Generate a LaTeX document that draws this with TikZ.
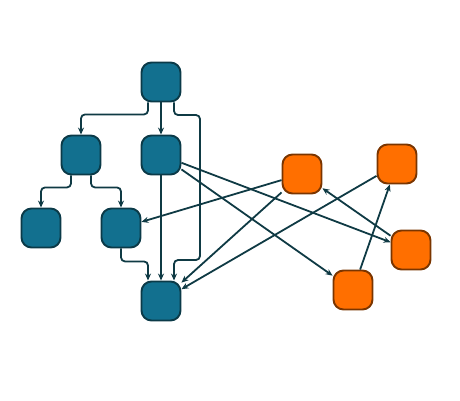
\documentclass[tikz,border=0pt]{standalone}
\usetikzlibrary{arrows.meta}
\definecolor{tealfill}{HTML}{12708F}
\definecolor{tealdraw}{HTML}{0B3A48}
\definecolor{orfill}{HTML}{FF6F00}
\definecolor{ordraw}{HTML}{7A3500}
\definecolor{edgecol}{HTML}{0F3A44}
\tikzset{
  tnode/.style={draw=tealdraw, fill=tealfill, line width=1.9pt, rounded corners=10pt, minimum width=39pt, minimum height=39pt, inner sep=0pt},
  onode/.style={draw=ordraw, fill=orfill, line width=1.9pt, rounded corners=10pt, minimum width=39pt, minimum height=39pt, inner sep=0pt},
  edge/.style={draw=edgecol, line width=1.8pt, rounded corners=4pt, -{Stealth[length=7pt,width=6pt]}}
}
\begin{document}
\begin{tikzpicture}[x=1pt,y=-1pt]
\useasboundingbox (0,0) rectangle (460,400);
\node[tnode] (a) at (161,82) {};
\node[tnode] (b) at (81,155) {};
\node[tnode] (c) at (161,155) {};
\node[tnode] (d) at (41,228) {};
\node[tnode] (e) at (121,228) {};
\node[tnode] (f) at (161,301) {};
\node[onode] (o1) at (302,174) {};
\node[onode] (o2) at (397,164) {};
\node[onode] (o3) at (411,250) {};
\node[onode] (o4) at (353,290) {};
\draw[edge] ([xshift=-13pt]a.south) -- ++(0,12) -| (b.north);
\draw[edge] (a.south) -- (c.north);
\draw[edge] ([xshift=13pt]a.south) |- (200,115) -- (200,260) -| ([xshift=13pt]f.north);
\draw[edge] ([xshift=-10pt]b.south) -- ++(0,12) -| (d.north);
\draw[edge] ([xshift=10pt]b.south) -- ++(0,12) -| (e.north);
\draw[edge] (c.south) -- (f.north);
\draw[edge] (e.south) -- ++(0,13) -| ([xshift=-13pt]f.north);
\draw[edge] (c) -- (o4);
\draw[edge] (c) -- (o3);
\draw[edge] (o1) -- (e);
\draw[edge] (o1) -- (f);
\draw[edge] (o2) -- (f);
\draw[edge] (o3) -- (o1);
\draw[edge] (o4) -- (o2);
\end{tikzpicture}
\end{document}
